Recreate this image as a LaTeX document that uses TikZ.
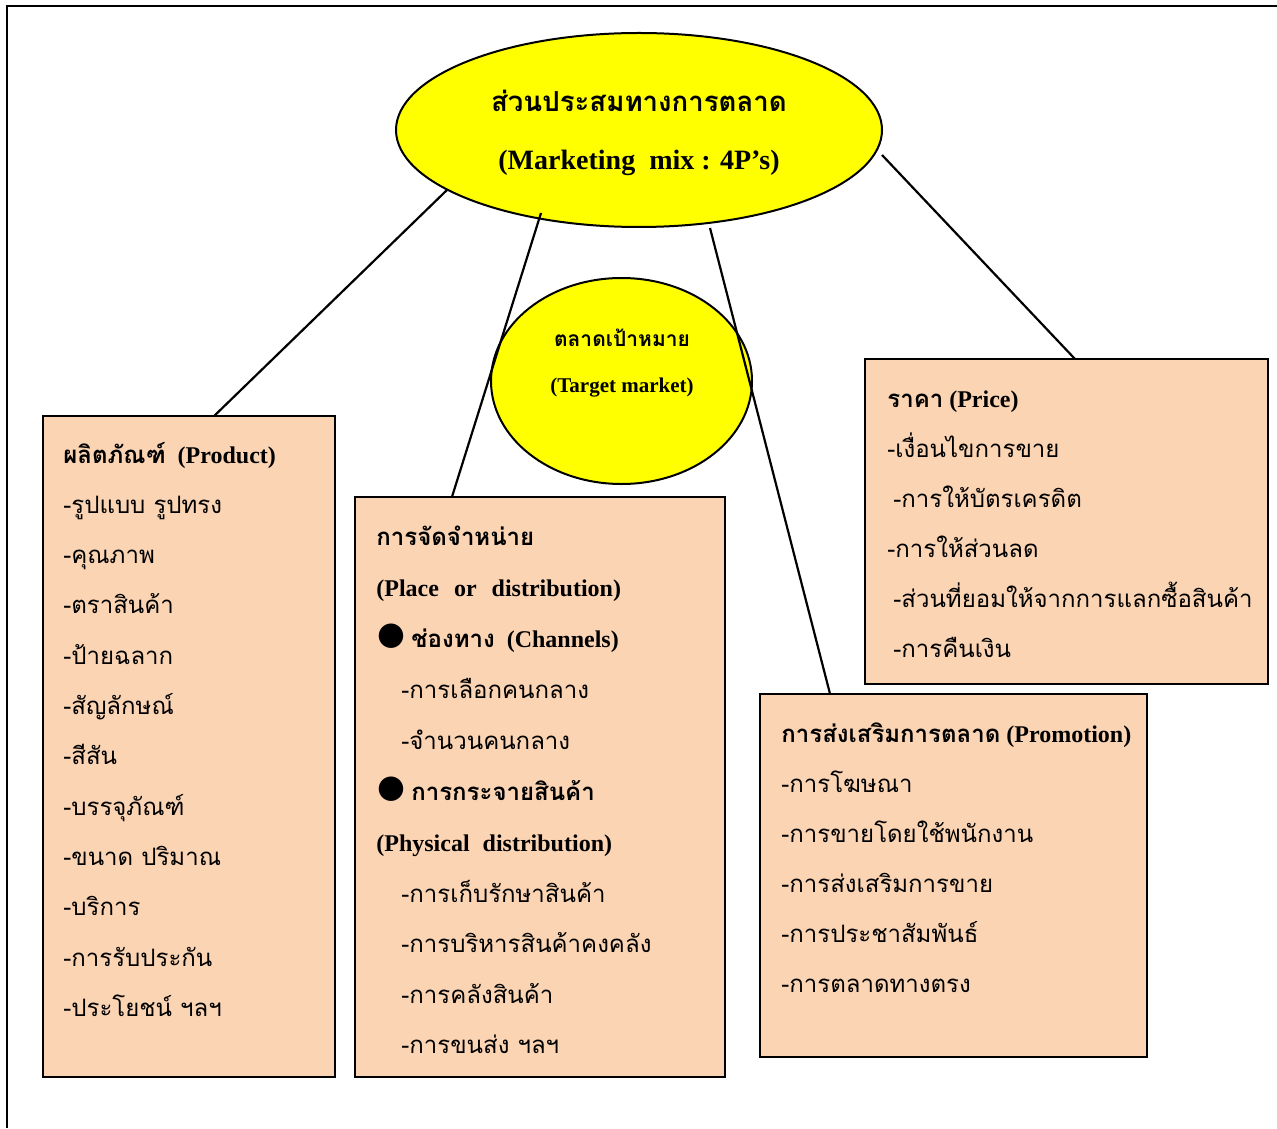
\documentclass[tikz,border=0pt]{standalone}
\usepackage{fontspec}
\usetikzlibrary{shapes.geometric,calc}
\setmainfont{Liberation Serif}
\newfontfamily\thai[Script=Thai]{Loma}
\newfontfamily\dejavu{DejaVu Sans}
\newcommand\T[1]{{\thai #1}}
\newcommand\blt{{\dejavu\fontsize{16}{16}\selectfont\raisebox{1.5pt}{●}}}
\definecolor{peach}{HTML}{FBD4B4}
\definecolor{mixyellow}{HTML}{FFFF00}
\begin{document}
\begin{tikzpicture}[x=0.5pt,y=-0.5pt,
  bubble/.style={ellipse,draw=black,line width=1pt,fill=mixyellow,inner sep=0pt,outer sep=0pt},
  pbox/.style={rectangle,draw=black,line width=1pt,fill=peach,inner sep=0pt,outer sep=0pt},
  conn/.style={draw=black,line width=1.1pt},
  frame/.style={draw=black,line width=1.2pt},
  txt/.style={anchor=base west,inner sep=0pt,font=\fontsize{12}{14}\selectfont},
  ctr/.style={anchor=base,inner sep=0pt}]
\useasboundingbox (0,0) rectangle (1277,1128);
\fill[white] (0,0) rectangle (1277,1128);
% page frame
\draw[frame] (1277,6) -- (7,6) -- (7,1128);

% central and target bubbles
\node[bubble,minimum width=243pt,minimum height=97pt] (main) at (639,130) {};
\node[bubble,minimum width=130.5pt,minimum height=103pt] (target) at (621.5,381) {};

% the four P boxes
\node[pbox,minimum width=146pt,minimum height=330.5pt] (prod) at (189,746.5) {};
\node[pbox,minimum width=185pt,minimum height=290pt] (place) at (540,787) {};
\node[pbox,minimum width=201.5pt,minimum height=162.5pt] (price) at (1066.5,521.5) {};
\node[pbox,minimum width=193.5pt,minimum height=181.5pt] (promo) at (953.5,875.5) {};

% connectors from the marketing mix to each P
\draw[conn] ($(main.center)+(-192,60)$) -- ($(prod.north west)!0.586!(prod.north east)$);
\draw[conn] ($(main.center)+(-98,83)$) -- ($(place.north west)!0.262!(place.north east)$);
\draw[conn] ($(main.center)+(71,98)$) -- ($(promo.north west)!0.181!(promo.north east)$);
\draw[conn] ($(main.center)+(243,25)$) -- ($(price.north west)!0.521!(price.north east)$);

% bubble texts
\node[ctr,font=\bfseries\fontsize{13.8}{16}\selectfont] (mt1) at (639,112) {\T{ส่วนประสมทางการตลาด}};
\node[ctr,font=\bfseries\fontsize{14}{16}\selectfont] (mt2) at (639,170) {(Marketing~~mix : 4P’s)};
\node[ctr,font=\bfseries\fontsize{10.5}{12}\selectfont] (tt1) at (622,346) {\T{ตลาดเป้าหมาย}};
\node[ctr,font=\bfseries\fontsize{10.5}{12}\selectfont] (tt2) at (622,392) {(Target market)};

% Product
\node[txt,font=\bfseries\fontsize{12}{14}\selectfont] (pr0) at (63,463) {\T{ผลิตภัณฑ์}~~(Product)};
\node[txt] (pr1) at (63,513.3) {\T{-รูปแบบ รูปทรง}};
\node[txt] (pr2) at (63,563.6) {\T{-คุณภาพ}};
\node[txt] (pr3) at (63,613.9) {\T{-ตราสินค้า}};
\node[txt] (pr4) at (63,664.2) {\T{-ป้ายฉลาก}};
\node[txt] (pr5) at (63,714.5) {\T{-สัญลักษณ์}};
\node[txt] (pr6) at (63,764.8) {\T{-สีสัน}};
\node[txt] (pr7) at (63,815.1) {\T{-บรรจุภัณฑ์}};
\node[txt] (pr8) at (63,865.4) {\T{-ขนาด ปริมาณ}};
\node[txt] (pr9) at (63,915.7) {\T{-บริการ}};
\node[txt] (pr10) at (63,966) {\T{-การรับประกัน}};
\node[txt] (pr11) at (63,1016.3) {\T{-ประโยชน์ ฯลฯ}};

% Place
\node[txt,font=\bfseries\fontsize{12}{14}\selectfont] (pl0) at (376,545) {\T{การจัดจำหน่าย}};
\node[txt,font=\bfseries\fontsize{12}{14}\selectfont] (pl1) at (376,596) {(Place\hspace{7.5pt}or\hspace{7.5pt}distribution)};
\node[txt,font=\bfseries\fontsize{12}{14}\selectfont] (pl2) at (377,647) {\blt\ \T{ช่องทาง}~~(Channels)};
\node[txt] (pl3) at (401,698) {\T{-การเลือกคนกลาง}};
\node[txt] (pl4) at (401,749) {\T{-จำนวนคนกลาง}};
\node[txt,font=\bfseries\fontsize{12}{14}\selectfont] (pl5) at (377,800) {\blt\ \T{การกระจายสินค้า}};
\node[txt,font=\bfseries\fontsize{12}{14}\selectfont] (pl6) at (376,851) {(Physical\hspace{6.5pt}distribution)};
\node[txt] (pl7) at (401,902) {\T{-การเก็บรักษาสินค้า}};
\node[txt] (pl8) at (401,952) {\T{-การบริหารสินค้าคงคลัง}};
\node[txt] (pl9) at (401,1003) {\T{-การคลังสินค้า}};
\node[txt] (pl10) at (401,1053) {\T{-การขนส่ง ฯลฯ}};

% Price
\node[txt,font=\bfseries\fontsize{12}{14}\selectfont] (pc0) at (887,407) {\T{ราคา} (Price)};
\node[txt] (pc1) at (887,457) {\T{-เงื่อนไขการขาย}};
\node[txt] (pc2) at (893,507) {\T{-การให้บัตรเครดิต}};
\node[txt] (pc3) at (887,557) {\T{-การให้ส่วนลด}};
\node[txt] (pc4) at (893,607) {\T{-ส่วนที่ยอมให้จากการแลกซื้อสินค้า}};
\node[txt] (pc5) at (893,657) {\T{-การคืนเงิน}};

% Promotion
\node[txt,font=\bfseries\fontsize{12}{14}\selectfont] (pm0) at (781,742) {\T{การส่งเสริมการตลาด} (Promotion)};
\node[txt] (pm1) at (781,792) {\T{-การโฆษณา}};
\node[txt] (pm2) at (781,842) {\T{-การขายโดยใช้พนักงาน}};
\node[txt] (pm3) at (781,892) {\T{-การส่งเสริมการขาย}};
\node[txt] (pm4) at (781,942) {\T{-การประชาสัมพันธ์}};
\node[txt] (pm5) at (781,992) {\T{-การตลาดทางตรง}};
\end{tikzpicture}
\end{document}
